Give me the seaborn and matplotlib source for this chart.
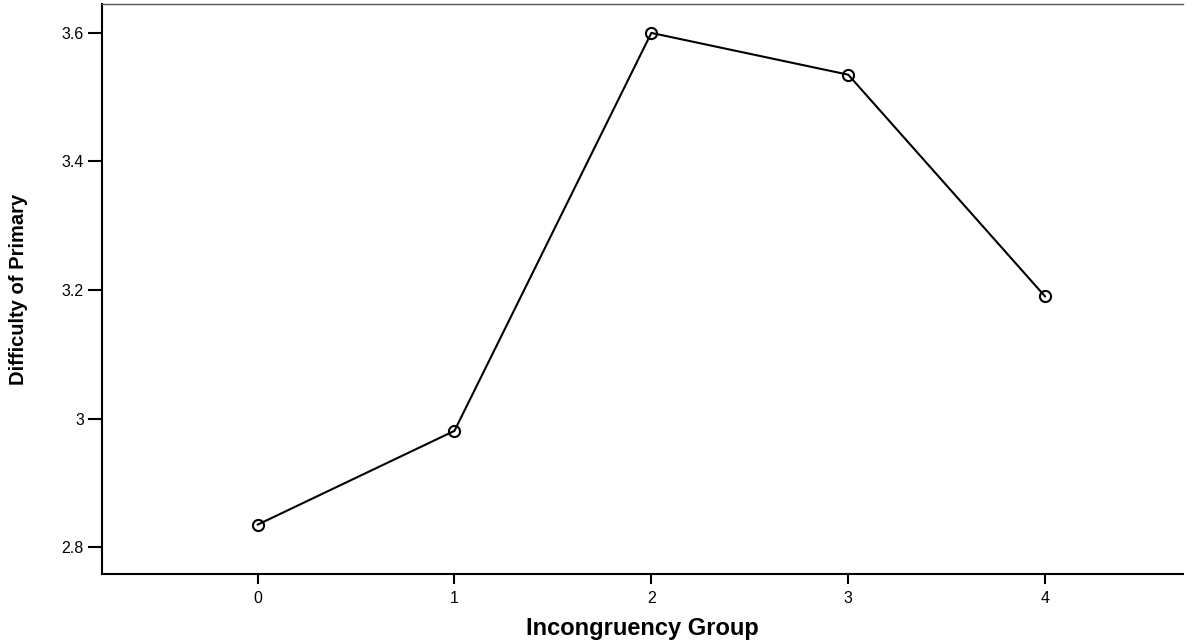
import matplotlib
matplotlib.use("Agg")
import matplotlib.pyplot as plt
import seaborn as sns
import pandas as pd

groups = [0, 1, 2, 3, 4]
difficulty = [2.835, 2.981, 3.600, 3.535, 3.190]
y_ticks = [2.8, 3.0, 3.2, 3.4, 3.6]
y_tick_labels = ["2.8", "3", "3.2", "3.4", "3.6"]

sns.set_style("white")
plt.rcParams['font.family'] = ['Liberation Sans', 'DejaVu Sans']
plt.rcParams['text.color'] = 'black'
plt.rcParams['axes.labelcolor'] = 'black'
plt.rcParams['xtick.color'] = 'black'
plt.rcParams['ytick.color'] = 'black'

df = pd.DataFrame({"group": groups, "difficulty": difficulty})

fig = plt.figure(figsize=(11.93, 6.43), dpi=100)
ax = fig.add_axes([0.0855, 0.107, 0.9061, 0.8868])

sns.lineplot(data=df, x="group", y="difficulty", ax=ax, color="black",
             linewidth=1.5, marker="o", markersize=8, markerfacecolor="none",
             markeredgecolor="black", markeredgewidth=1.5)

ax.set_xlim(-0.79, 4.70)
ax.set_ylim(2.758, 3.645)
ax.set_xticks(groups)
ax.set_xticklabels([str(g) for g in groups], fontsize=11.5)
ax.set_yticks(y_ticks)
ax.set_yticklabels(y_tick_labels, fontsize=11.5)
ax.tick_params(axis="y", length=10, width=1.5, color="black", pad=3, left=True,
               labelcolor="black")
ax.tick_params(axis="x", length=7, width=1.5, color="black", pad=5, bottom=True,
               labelcolor="black")

ax.set_xlabel("Incongruency Group", fontsize=17, fontweight="bold", labelpad=8,
              color="black")
ax.set_ylabel("Difficulty of Primary", fontsize=14.5, fontweight="bold", labelpad=24,
              color="black")

for s in ["left", "bottom"]:
    ax.spines[s].set_color("black")
    ax.spines[s].set_linewidth(1.5)
ax.spines["top"].set_color("#555555")
ax.spines["top"].set_linewidth(1.0)
ax.spines["right"].set_visible(False)

fig.savefig("out.png", dpi=100)
